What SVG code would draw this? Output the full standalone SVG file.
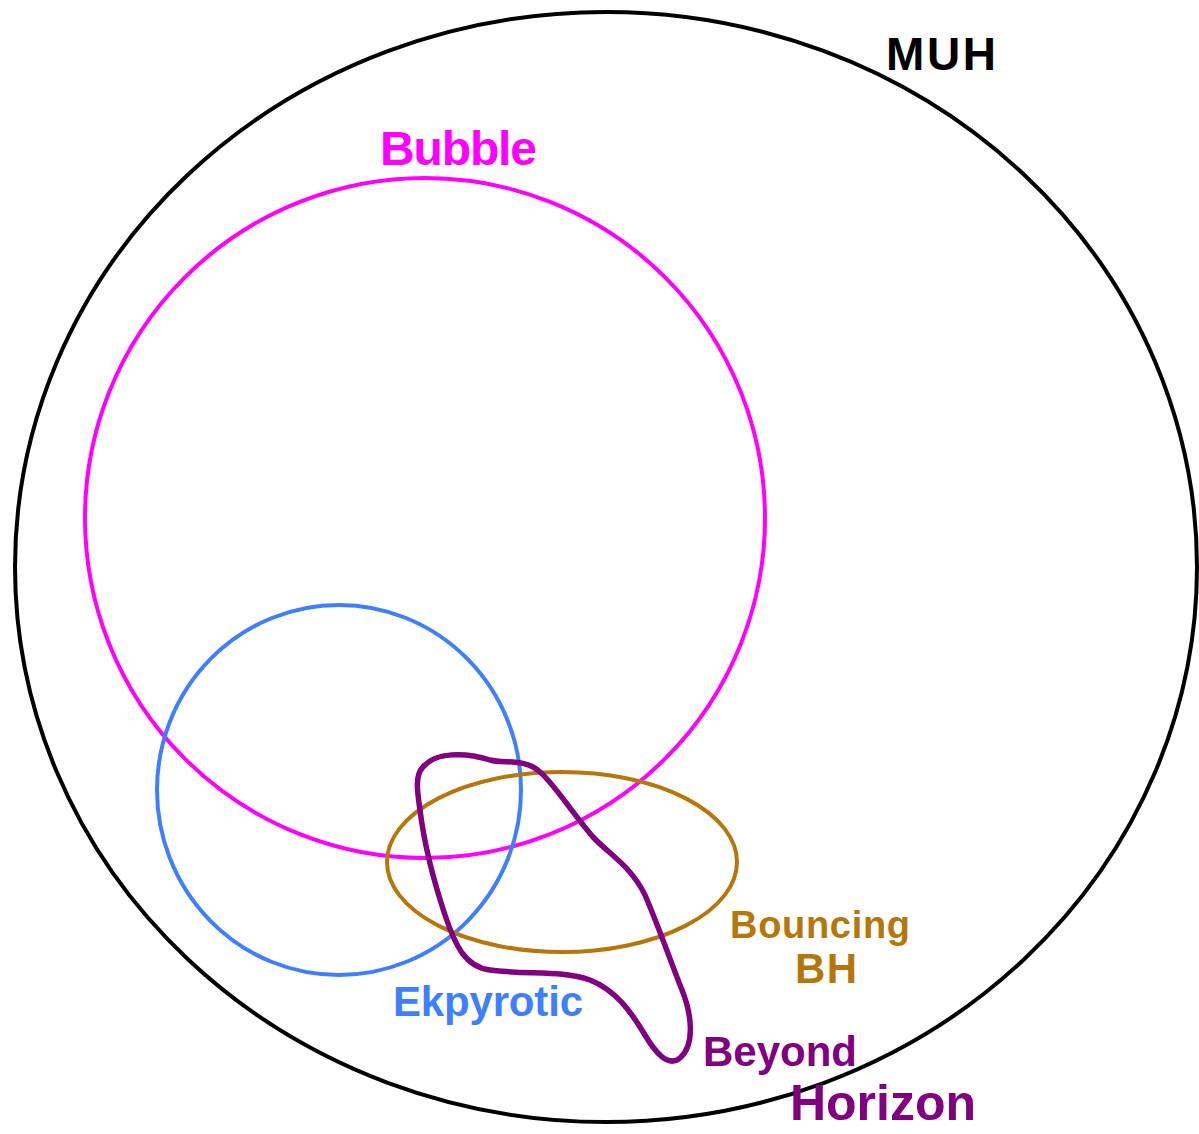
<svg xmlns="http://www.w3.org/2000/svg" width="1199" height="1134" viewBox="0 0 1199 1134">
<style>
.s{fill:none;stroke-width:4;stroke-linecap:round;stroke-linejoin:round}
.p{stroke-width:5.5}
.t{font-family:"Liberation Sans","DejaVu Sans",sans-serif;font-weight:bold}
</style>
<rect width="1199" height="1134" fill="#fff"/>
<g id="muh">
<ellipse class="s" cx="606" cy="567" rx="591" ry="555" stroke="#000"/>
<text class="t" x="886" y="70" font-size="46" fill="#000" textLength="110">MUH</text>
</g>
<g id="bubble">
<circle class="s" cx="425" cy="518" r="340" stroke="#ff00ff"/>
<text class="t" x="380" y="165" font-size="48" fill="#ff00ff" textLength="157">Bubble</text>
</g>
<g id="ekpyrotic">
<ellipse class="s" cx="339" cy="790" rx="182" ry="185" stroke="#3f7fff"/>
<text class="t" x="393" y="1016" font-size="42" fill="#3f7fff" textLength="190">Ekpyrotic</text>
</g>
<g id="bouncing">
<ellipse class="s" cx="562" cy="862" rx="175" ry="90" stroke="#b5770c"/>
<text class="t" x="730" y="938" font-size="38" fill="#b5770c" textLength="180">Bouncing</text>
<text class="t" x="795" y="983" font-size="42" fill="#b5770c" textLength="62">BH</text>
</g>
<g id="beyond">
<path class="s p" stroke="#800080" d="M423,767 C435,752 465,752 490,760 C505,764 525,758 540,772 C555,785 570,810 593,837 C610,855 630,865 645,895 C660,930 670,960 682,990 C692,1015 695,1045 680,1058 C668,1068 655,1052 645,1035 C630,1010 615,990 590,980 C560,970 530,975 490,970 C465,967 455,945 445,915 C435,885 425,850 420,810 C417,790 415,775 423,767 Z"/>
<text class="t" x="703" y="1066" font-size="42" fill="#800080" textLength="154">Beyond</text>
<text class="t" x="790" y="1120" font-size="50" fill="#800080" textLength="186">Horizon</text>
</g>
</svg>
